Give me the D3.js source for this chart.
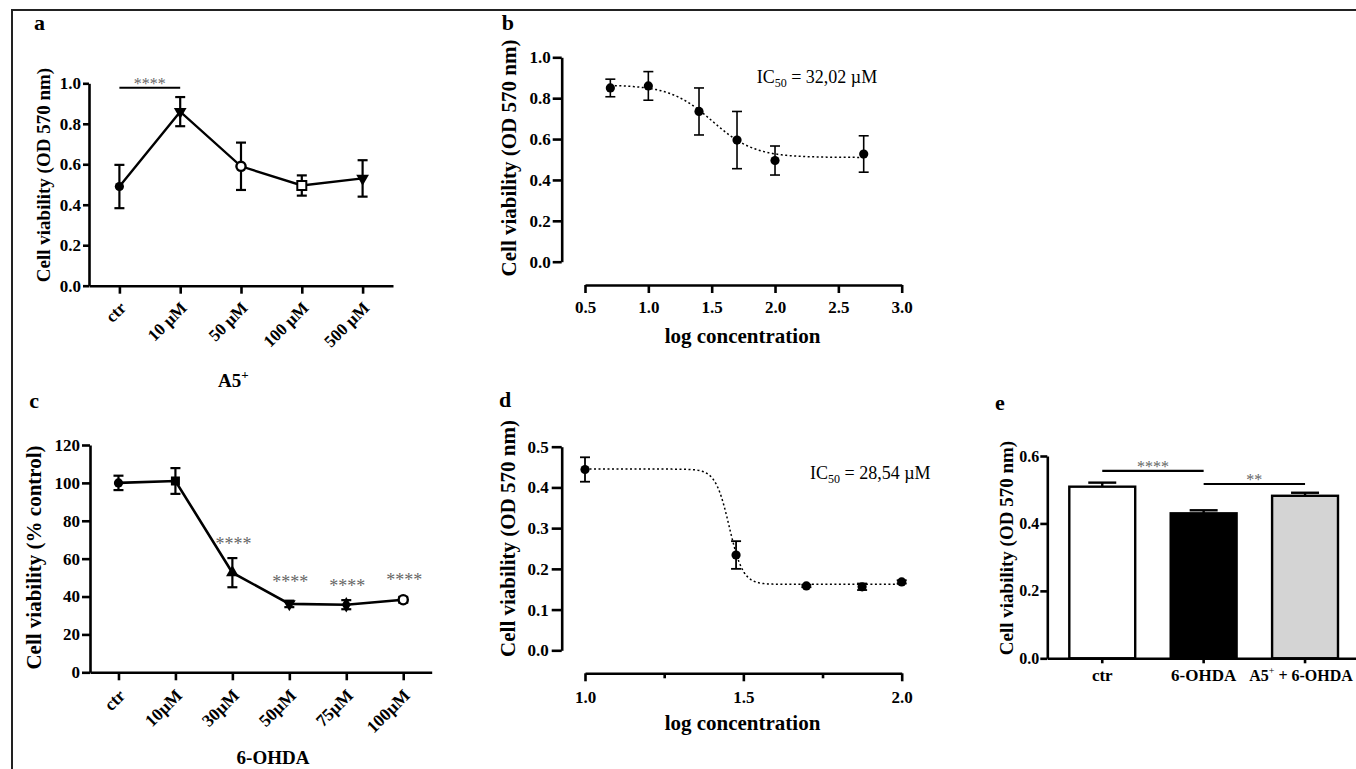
<!DOCTYPE html>
<html>
<head>
<meta charset="utf-8">
<script src="https://cdn.jsdelivr.net/npm/d3@7"></script>
<style>
  body { margin: 0; background: #fff; }
  svg { display: block; }
</style>
</head>
<body>
<svg id="chart"></svg>
<script>
// ---- panel a : A5+ dose response ----
const aCats = ["ctr", "10 µM", "50 µM", "100 µM", "500 µM"];
const aMean = [0.49, 0.86, 0.59, 0.495, 0.53];
const aSd = [0.107, 0.072, 0.117, 0.05, 0.09];
const aMarks = ["circle", "triDown", "openCircle", "openSquare", "triDown"];
const aYTicks = [0, 0.2, 0.4, 0.6, 0.8, 1.0];
const aSig = [{ from: "ctr", to: "10 µM", y: 0.978, label: "****" }];

// ---- panel b : log concentration fit (A5+) ----
const bLogX = [0.7, 1.0, 1.4, 1.7, 2.0, 2.7];
const bMean = [0.85, 0.86, 0.735, 0.595, 0.495, 0.527];
const bSd = [0.043, 0.07, 0.115, 0.14, 0.071, 0.089];
const bYTicks = [0, 0.2, 0.4, 0.6, 0.8, 1.0];
const bXTicks = [0.5, 1.0, 1.5, 2.0, 2.5, 3.0];
const bTop = 0.865, bBottom = 0.51, bIC50 = 32.02, bHill = 2.6;

// ---- panel c : 6-OHDA % control ----
const cCats = ["ctr", "10µM", "30µM", "50µM", "75µM", "100µM"];
const cMean = [100, 101, 52.6, 36.1, 35.7, 38.3];
const cSd = [3.8, 6.8, 7.7, 1.7, 2.4, 1.5];
const cMarks = ["circle", "square", "triUp", "triDown", "diamond", "openCircle"];
const cStars = ["", "", "****", "****", "****", "****"];
const cStarY = [0, 0, 69, 48.8, 46.7, 50.2];
const cYTicks = [0, 20, 40, 60, 80, 100, 120];

// ---- panel d : log concentration fit (6-OHDA) ----
const dLogX = [1.0, 1.477, 1.699, 1.875, 2.0];
const dMean = [0.444, 0.234, 0.158, 0.156, 0.168];
const dSd = [0.03, 0.034, 0.003, 0.008, 0.004];
const dYTicks = [0, 0.1, 0.2, 0.3, 0.4, 0.5];
const dXTicks = [1.0, 1.5, 2.0];
const dXMinor = [1.25, 1.75];
const dTop = 0.445, dBottom = 0.162, dIC50 = 28.54, dHill = 20;

// ---- panel e : protection bars ----
const eCats = ["ctr", "6-OHDA", "A5+ + 6-OHDA"];
const eMean = [0.509, 0.43, 0.482];
const eSd = [0.012, 0.009, 0.009];
const eYTicks = [0, 0.2, 0.4, 0.6];
const eSig = [
  { from: "ctr", to: "6-OHDA", y: 0.556, label: "****" },
  { from: "6-OHDA", to: "A5+ + 6-OHDA", y: 0.517, label: "**" }
];
const eFill = ["#ffffff", "#000000", "#d4d4d4"];

const SERIF = '"Liberation Serif", "Times New Roman", Times, serif';
const STAR = "#666";
const AXW = 2.6;

const svg = d3.select("#chart").attr("width", 1356).attr("height", 769)
  .style("font-family", SERIF);

// outer figure frame (top and left edges visible)
svg.append("path").attr("d", "M12,769V10H1356")
  .attr("fill", "none").attr("stroke", "#222").attr("stroke-width", 2);

function styleAxis(g, fs) {
  g.select(".domain").attr("stroke", "#000").attr("stroke-width", AXW);
  g.selectAll(".tick line").attr("stroke", "#000").attr("stroke-width", AXW);
  g.selectAll(".tick text")
    .attr("fill", "#000")
    .attr("font-size", fs)
    .attr("font-weight", "bold")
    .attr("font-family", SERIF);
}

function panelLetter(t, x, y) {
  svg.append("text").attr("x", x).attr("y", y).text(t)
    .attr("font-size", 22).attr("font-weight", "bold");
}

function yLabel(t, cx, cy, fs) {
  svg.append("text")
    .attr("transform", `translate(${cx},${cy}) rotate(-90)`)
    .attr("text-anchor", "middle").attr("dy", "0.35em")
    .attr("font-size", fs).attr("font-weight", "bold")
    .text(t);
}

function ic50Label(x, y, value) {
  const t = svg.append("text").attr("x", x).attr("y", y).attr("font-size", 18);
  t.append("tspan").text("IC");
  t.append("tspan").attr("font-size", 12).attr("dy", 4).text("50");
  t.append("tspan").attr("dy", -4).text(" = " + value + " µM");
}

function marker(g, type, x, y) {
  const r = 4.6;
  if (type === "circle") {
    g.append("circle").attr("cx", x).attr("cy", y).attr("r", r).attr("fill", "#000");
  } else if (type === "openCircle") {
    g.append("circle").attr("cx", x).attr("cy", y).attr("r", r)
      .attr("fill", "#fff").attr("stroke", "#000").attr("stroke-width", 2.4);
  } else if (type === "openSquare") {
    g.append("rect").attr("x", x - 4.5).attr("y", y - 4.5).attr("width", 9).attr("height", 9)
      .attr("fill", "#fff").attr("stroke", "#000").attr("stroke-width", 2);
  } else if (type === "square") {
    g.append("rect").attr("x", x - 4.5).attr("y", y - 4.5).attr("width", 9).attr("height", 9)
      .attr("fill", "#000");
  } else {
    const sym = { triUp: d3.symbolTriangle, triDown: d3.symbolTriangle, diamond: d3.symbolDiamond }[type];
    const rot = type === "triDown" ? 180 : 0;
    g.append("path").attr("d", d3.symbol().type(sym).size(70)())
      .attr("transform", `translate(${x},${y}) rotate(${rot})`).attr("fill", "#000");
  }
}

function errBars(g, xs, lo, hi, half) {
  xs.forEach((x, i) => {
    g.append("line").attr("x1", x).attr("x2", x).attr("y1", lo[i]).attr("y2", hi[i]);
    g.append("line").attr("x1", x - half).attr("x2", x + half).attr("y1", lo[i]).attr("y2", lo[i]);
    g.append("line").attr("x1", x - half).attr("x2", x + half).attr("y1", hi[i]).attr("y2", hi[i]);
  });
  g.attr("stroke", "#000").attr("stroke-width", 2.2);
}

function logistic(x, top, bottom, logIC50, hill) {
  return bottom + (top - bottom) / (1 + Math.pow(10, (x - logIC50) * hill));
}

// ================= panel a =================
{
  const x = d3.scalePoint().domain(aCats).range([89, 393]).padding(0.5);
  const y = d3.scaleLinear().domain([0, 1]).range([285.7, 83.3]);

  const gy = svg.append("g").attr("transform", "translate(89,0)")
    .call(d3.axisLeft(y).tickValues(aYTicks).tickFormat(d3.format(".1f"))
      .tickSize(6).tickPadding(2).tickSizeOuter(0));
  styleAxis(gy, 17);

  const gx = svg.append("g").attr("transform", "translate(0,285.7)")
    .call(d3.axisBottom(x).tickSize(8).tickSizeOuter(0));
  styleAxis(gx, 17);
  gx.selectAll(".tick text")
    .attr("x", 0).attr("y", 0).attr("dy", "0.35em")
    .attr("text-anchor", "end")
    .attr("transform", "translate(3,19) rotate(-45)");

  const eb = svg.append("g");
  errBars(eb, aCats.map(x), aMean.map((m, i) => y(m - aSd[i])), aMean.map((m, i) => y(m + aSd[i])), 5);

  svg.append("path")
    .datum(aCats.map((c, i) => [x(c), y(aMean[i])]))
    .attr("d", d3.line())
    .attr("fill", "none").attr("stroke", "#000").attr("stroke-width", 2.4);

  const mk = svg.append("g");
  aCats.forEach((c, i) => marker(mk, aMarks[i], x(c), y(aMean[i])));

  aSig.forEach(s => {
    svg.append("line").attr("x1", x(s.from)).attr("x2", x(s.to))
      .attr("y1", y(s.y)).attr("y2", y(s.y)).attr("stroke", "#000").attr("stroke-width", 2.2);
    svg.append("text").attr("x", (x(s.from) + x(s.to)) / 2).attr("y", y(s.y) + 1.5)
      .attr("text-anchor", "middle").attr("font-size", 16).attr("fill", STAR).text(s.label);
  });

  yLabel("Cell viability (OD 570 nm)", 43, 175, 19);
  panelLetter("a", 34, 30);
  const t = svg.append("text").attr("x", 218).attr("y", 386.7)
    .attr("font-size", 19).attr("font-weight", "bold");
  t.append("tspan").text("A5");
  t.append("tspan").attr("font-size", 13).attr("dy", -8).text("+");
}

// ================= panel b =================
{
  const x = d3.scaleLinear().domain([0.5, 3.0]).range([585, 901.7]);
  const y = d3.scaleLinear().domain([0, 1]).range([261.7, 57.3]);

  const gy = svg.append("g").attr("transform", "translate(561.7,0)")
    .call(d3.axisLeft(y).tickValues(bYTicks).tickFormat(d3.format(".1f"))
      .tickSize(9).tickPadding(2).tickSizeOuter(0));
  styleAxis(gy, 17);

  const gx = svg.append("g").attr("transform", "translate(0,285)")
    .call(d3.axisBottom(x).tickValues(bXTicks).tickFormat(d3.format(".1f"))
      .tickSize(8).tickPadding(8).tickSizeOuter(0));
  styleAxis(gx, 17);

  const curve = d3.range(0.7, 2.7001, 0.01).map(v => [x(v), y(logistic(v, bTop, bBottom, Math.log10(bIC50), bHill))]);
  svg.append("path").datum(curve).attr("d", d3.line())
    .attr("fill", "none").attr("stroke", "#000").attr("stroke-width", 1.5)
    .attr("stroke-dasharray", "2,2.5");

  const eb = svg.append("g");
  errBars(eb, bLogX.map(x), bMean.map((m, i) => y(m - bSd[i])), bMean.map((m, i) => y(m + bSd[i])), 5);
  eb.attr("stroke-width", 1.6);

  const mk = svg.append("g");
  bLogX.forEach((v, i) => marker(mk, "circle", x(v), y(bMean[i])));

  ic50Label(756.7, 82.7, "32,02");
  yLabel("Cell viability (OD 570 nm)", 509, 158, 21);
  svg.append("text").attr("x", 742.5).attr("y", 342.7).attr("text-anchor", "middle")
    .attr("font-size", 21).attr("font-weight", "bold").text("log concentration");
  panelLetter("b", 501.7, 30);
}

// ================= panel c =================
{
  const x = d3.scalePoint().domain(cCats).range([90, 431.7]).padding(0.5);
  const y = d3.scaleLinear().domain([0, 120]).range([672.3, 445]);

  const gy = svg.append("g").attr("transform", "translate(90,0)")
    .call(d3.axisLeft(y).tickValues(cYTicks).tickSize(8).tickPadding(2).tickSizeOuter(0));
  styleAxis(gy, 17);

  const gx = svg.append("g").attr("transform", "translate(0,672.3)")
    .call(d3.axisBottom(x).tickSize(8).tickSizeOuter(0));
  styleAxis(gx, 17.5);
  gx.selectAll(".tick text")
    .attr("x", 0).attr("y", 0).attr("dy", "0.35em")
    .attr("text-anchor", "end")
    .attr("transform", "translate(3,20) rotate(-45)");

  const eb = svg.append("g");
  errBars(eb, cCats.map(x), cMean.map((m, i) => y(m - cSd[i])), cMean.map((m, i) => y(m + cSd[i])), 5);

  svg.append("path")
    .datum(cCats.map((c, i) => [x(c), y(cMean[i])]))
    .attr("d", d3.line())
    .attr("fill", "none").attr("stroke", "#000").attr("stroke-width", 2.6);

  const mk = svg.append("g");
  cCats.forEach((c, i) => marker(mk, cMarks[i], x(c), y(cMean[i])));

  cCats.forEach((c, i) => {
    if (!cStars[i]) return;
    svg.append("text").attr("x", x(c) + 1).attr("y", y(cStarY[i]) + 8.3)
      .attr("text-anchor", "middle").attr("font-size", 18).attr("fill", STAR).text(cStars[i]);
  });

  yLabel("Cell viability (% control)", 34, 557.5, 21);
  panelLetter("c", 29.3, 408.3);
  svg.append("text").attr("x", 273).attr("y", 764).attr("text-anchor", "middle")
    .attr("font-size", 19).attr("font-weight", "bold").text("6-OHDA");
}

// ================= panel d =================
{
  const x = d3.scaleLinear().domain([1, 2]).range([585, 901.7]);
  const y = d3.scaleLinear().domain([0, 0.5]).range([650.3, 446.7]);

  const gy = svg.append("g").attr("transform", "translate(561.7,0)")
    .call(d3.axisLeft(y).tickValues(dYTicks).tickFormat(d3.format(".1f"))
      .tickSize(10).tickPadding(3).tickSizeOuter(0));
  styleAxis(gy, 17);

  const gx = svg.append("g").attr("transform", "translate(0,673.3)")
    .call(d3.axisBottom(x).tickValues(dXTicks).tickFormat(d3.format(".1f"))
      .tickSize(8).tickPadding(10).tickSizeOuter(0));
  styleAxis(gx, 17);
  const gm = svg.append("g").attr("transform", "translate(0,673.3)")
    .call(d3.axisBottom(x).tickValues(dXMinor).tickFormat("").tickSize(5).tickSizeOuter(0));
  styleAxis(gm, 17);
  gm.select(".domain").remove();

  const curve = d3.range(1.0, 2.0001, 0.002).map(v => [x(v), y(logistic(v, dTop, dBottom, Math.log10(dIC50), dHill))]);
  svg.append("path").datum(curve).attr("d", d3.line())
    .attr("fill", "none").attr("stroke", "#000").attr("stroke-width", 1.5)
    .attr("stroke-dasharray", "2,2.5");

  const eb = svg.append("g");
  errBars(eb, dLogX.map(x), dMean.map((m, i) => y(m - dSd[i])), dMean.map((m, i) => y(m + dSd[i])), 5);
  eb.attr("stroke-width", 1.8);

  const mk = svg.append("g");
  dLogX.forEach((v, i) => marker(mk, "circle", x(v), y(dMean[i])));

  ic50Label(810, 479.3, "28,54");
  yLabel("Cell viability (OD 570 nm)", 507.5, 538.5, 21);
  svg.append("text").attr("x", 742.5).attr("y", 730).attr("text-anchor", "middle")
    .attr("font-size", 21).attr("font-weight", "bold").text("log concentration");
  panelLetter("d", 499, 406.7);
}

// ================= panel e =================
{
  const x = d3.scaleBand().domain(eCats).range([1047.3, 1360])
    .paddingInner(0.35).paddingOuter(0.217);
  const y = d3.scaleLinear().domain([0, 0.6]).range([658.3, 456]);

  svg.append("g").selectAll("rect").data(eCats).join("rect")
    .attr("x", c => x(c)).attr("width", x.bandwidth())
    .attr("y", (c, i) => y(eMean[i])).attr("height", (c, i) => y(0) - y(eMean[i]))
    .attr("fill", (c, i) => eFill[i]).attr("stroke", "#000").attr("stroke-width", 2.4);

  const eb = svg.append("g").attr("stroke", "#000").attr("stroke-width", 2.4);
  eCats.forEach((c, i) => {
    const cx = x(c) + x.bandwidth() / 2;
    eb.append("line").attr("x1", cx).attr("x2", cx).attr("y1", y(eMean[i])).attr("y2", y(eMean[i] + eSd[i]));
    eb.append("line").attr("x1", cx - 14).attr("x2", cx + 14)
      .attr("y1", y(eMean[i] + eSd[i])).attr("y2", y(eMean[i] + eSd[i]));
  });

  const gy = svg.append("g").attr("transform", "translate(1047.3,0)")
    .call(d3.axisLeft(y).tickValues(eYTicks).tickFormat(d3.format(".1f"))
      .tickSize(7).tickPadding(1).tickSizeOuter(0));
  styleAxis(gy, 16);

  const gx = svg.append("g").attr("transform", "translate(0,658.3)")
    .call(d3.axisBottom(x).tickSize(5).tickPadding(6).tickSizeOuter(0));
  styleAxis(gx, 17);
  gx.selectAll(".tick text").filter(d => d === "A5+ + 6-OHDA").each(function () {
    const t = d3.select(this).text(null).attr("font-size", 16).attr("x", -4);
    t.append("tspan").text("A5");
    t.append("tspan").attr("font-size", 10).attr("font-weight", "normal").attr("dy", -7).text("+");
    t.append("tspan").attr("dy", 7).text(" + 6-OHDA");
  });

  const mid = c => x(c) + x.bandwidth() / 2;
  eSig.forEach(s => {
    svg.append("line").attr("x1", mid(s.from)).attr("x2", mid(s.to))
      .attr("y1", y(s.y)).attr("y2", y(s.y)).attr("stroke", "#000").attr("stroke-width", 2.2);
    svg.append("text").attr("x", (mid(s.from) + mid(s.to)) / 2).attr("y", y(s.y) + 1.5)
      .attr("text-anchor", "middle").attr("font-size", 16).attr("fill", STAR).text(s.label);
  });

  yLabel("Cell viability (OD 570 nm)", 1006.7, 548, 19);
  panelLetter("e", 995, 410);
}
</script>
</body>
</html>
